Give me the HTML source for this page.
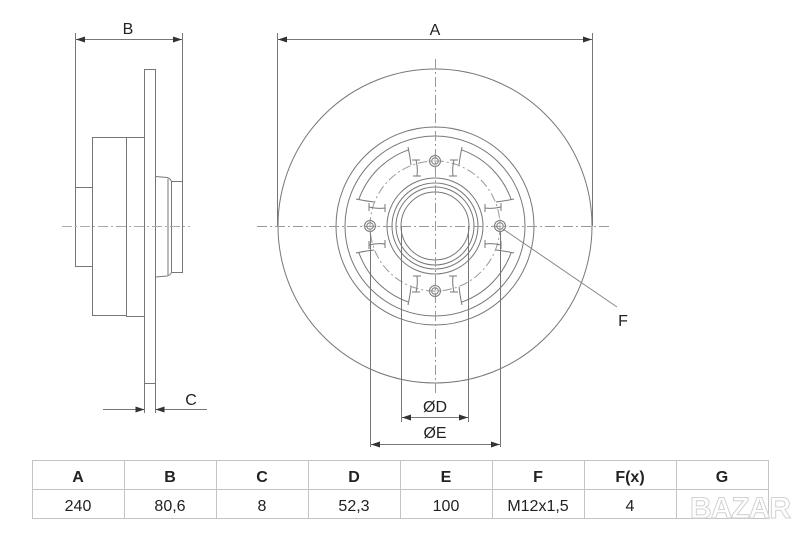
<!DOCTYPE html>
<html><head><meta charset="utf-8"><style>
html,body{margin:0;padding:0;background:#fff;}
body{width:800px;height:533px;overflow:hidden;position:relative;}
svg{position:absolute;left:0;top:0;}
text{font-family:"Liberation Sans",sans-serif;fill:#222;}
</style></head><body>
<svg width="800" height="533" viewBox="0 0 800 533" xmlns="http://www.w3.org/2000/svg">
<defs>
<g id="boss" fill="none" stroke="#777" stroke-width="1">
  <path d="M408,147 Q410,156 411,165"/>
  <path d="M462,147 Q460,156 459,165"/>
  <path d="M412,160 L420,160 M416,160 Q418,168 417,176 M413,176 L421,176"/>
  <path d="M458,160 L450,160 M454,160 Q452,168 453,176 M457,176 L449,176"/>
  <circle cx="435" cy="161" r="5.5"/>
  <circle cx="435" cy="161" r="3.3"/>
  <path d="M427,161 L443,161 M435,153 L435,169" stroke="#aaa" stroke-width="0.6"/>
</g>
</defs>

<!-- ============ SIDE VIEW ============ -->
<g fill="none" stroke="#777" stroke-width="1">
  <!-- B extension lines -->
  <line x1="75.5" y1="33" x2="75.5" y2="187"/>
  <line x1="182.5" y1="33" x2="182.5" y2="181"/>
  <line x1="76" y1="39.5" x2="182" y2="39.5"/>
  <!-- blocks -->
  <rect x="75.5" y="187.5" width="17" height="79"/>
  <rect x="92.5" y="137.5" width="34" height="178"/>
  <rect x="126.5" y="137.5" width="18" height="179"/>
  <rect x="144.5" y="69.5" width="11" height="314"/>
  <line x1="144.5" y1="384" x2="144.5" y2="413"/>
  <line x1="155.5" y1="384" x2="155.5" y2="413"/>
  <!-- right hub -->
  <path d="M155.5,176.5 L167,177.5 Q170.5,178.5 171.5,181.5 L182.5,181.5 L182.5,272.5 L171.5,272.5 Q170.5,275 167,276 L155.5,277"/>
  <line x1="168" y1="179" x2="168" y2="275"/>
  <line x1="171.5" y1="181.5" x2="171.5" y2="272.5"/>
  <!-- C dimension -->
  <line x1="103" y1="409.5" x2="144" y2="409.5"/>
  <line x1="156" y1="409.5" x2="207" y2="409.5"/>
  <!-- center line -->
  <line x1="62" y1="226.5" x2="190" y2="226.5" stroke="#aaa" stroke-dasharray="10 3 2 3"/>
</g>
<g fill="#333">
  <polygon points="76,39.5 85,36.5 85,42.5"/>
  <polygon points="182,39.5 173,36.5 173,42.5"/>
  <polygon points="144.5,409.5 135.5,406.5 135.5,412.5"/>
  <polygon points="155.5,409.5 164.5,406.5 164.5,412.5"/>
</g>
<text x="128" y="34" font-size="16" text-anchor="middle">B</text>
<text x="191" y="405" font-size="16" text-anchor="middle">C</text>

<!-- ============ FRONT VIEW ============ -->
<g fill="none" stroke="#777" stroke-width="1">
  <!-- A extension -->
  <line x1="277.5" y1="33" x2="277.5" y2="226"/>
  <line x1="592.5" y1="33" x2="592.5" y2="226"/>
  <line x1="278" y1="39.5" x2="592" y2="39.5"/>
  <circle cx="435" cy="226" r="157"/>
  <circle cx="435" cy="226" r="99"/>
  <circle cx="435" cy="226" r="90"/>
  <circle cx="435" cy="226" r="48"/>
  <circle cx="435" cy="226" r="43"/>
  <circle cx="435" cy="226" r="39"/>
  <circle cx="435" cy="226" r="34"/>
  <circle cx="435" cy="226" r="65" stroke="#999" stroke-dasharray="9 3 2 3"/>
  <!-- pocket arcs r=81 between bosses -->
  <path d="M461.4,149.8 A81,81 0 0 1 511.2,199.6"/>
  <path d="M511.2,252.4 A81,81 0 0 1 461.4,302.2"/>
  <path d="M408.6,302.2 A81,81 0 0 1 358.8,252.4"/>
  <path d="M358.8,199.6 A81,81 0 0 1 408.6,149.8"/>
  <!-- center lines -->
  <line x1="257" y1="226.5" x2="612" y2="226.5" stroke="#999" stroke-dasharray="10 3 2 3"/>
  <line x1="435.5" y1="59" x2="435.5" y2="393" stroke="#999" stroke-dasharray="10 3 2 3"/>
  <!-- D / E extension -->
  <line x1="401.5" y1="226" x2="401.5" y2="422"/>
  <line x1="468.5" y1="226" x2="468.5" y2="422"/>
  <line x1="370.5" y1="231" x2="370.5" y2="447"/>
  <line x1="500.5" y1="231" x2="500.5" y2="447"/>
  <line x1="402" y1="417.5" x2="468" y2="417.5"/>
  <line x1="371" y1="444.5" x2="500" y2="444.5"/>
  <!-- F leader -->
  <line x1="503" y1="229" x2="617" y2="307" stroke="#888"/>
</g>
<use href="#boss"/>
<use href="#boss" transform="rotate(90 435 226)"/>
<use href="#boss" transform="rotate(180 435 226)"/>
<use href="#boss" transform="rotate(270 435 226)"/>
<g fill="#333">
  <polygon points="278,39.5 287,36.5 287,42.5"/>
  <polygon points="592,39.5 583,36.5 583,42.5"/>
  <polygon points="402,417.5 411,414.5 411,420.5"/>
  <polygon points="468,417.5 459,414.5 459,420.5"/>
  <polygon points="371,444.5 380,441.5 380,447.5"/>
  <polygon points="500,444.5 491,441.5 491,447.5"/>
</g>
<text x="435" y="35" font-size="16" text-anchor="middle">A</text>
<text x="623" y="326" font-size="16" text-anchor="middle">F</text>
<text x="435" y="412" font-size="16" text-anchor="middle">ØD</text>
<text x="435" y="438" font-size="16" text-anchor="middle">ØE</text>

<!-- ============ TABLE ============ -->
<g fill="none" stroke="#c4c4c4" stroke-width="1">
  <rect x="32.5" y="460.5" width="736" height="58"/>
  <line x1="32" y1="489.5" x2="768" y2="489.5"/>
  <line x1="124.5" y1="460" x2="124.5" y2="519"/>
  <line x1="216.5" y1="460" x2="216.5" y2="519"/>
  <line x1="308.5" y1="460" x2="308.5" y2="519"/>
  <line x1="400.5" y1="460" x2="400.5" y2="519"/>
  <line x1="492.5" y1="460" x2="492.5" y2="519"/>
  <line x1="584.5" y1="460" x2="584.5" y2="519"/>
  <line x1="676.5" y1="460" x2="676.5" y2="519"/>
</g>
<g font-size="16" font-weight="bold" text-anchor="middle">
  <text x="78" y="482">A</text>
  <text x="170" y="482">B</text>
  <text x="262" y="482">C</text>
  <text x="354" y="482">D</text>
  <text x="446" y="482">E</text>
  <text x="538" y="482">F</text>
  <text x="630" y="482">F(x)</text>
  <text x="722" y="482">G</text>
</g>
<g font-size="16" text-anchor="middle" fill="#333">
  <text x="78" y="511">240</text>
  <text x="170" y="511">80,6</text>
  <text x="262" y="511">8</text>
  <text x="354" y="511">52,3</text>
  <text x="446" y="511">100</text>
  <text x="538" y="511">M12x1,5</text>
  <text x="630" y="511">4</text>
</g>
<text x="740" y="518" font-size="30" font-weight="bold" text-anchor="middle" style="fill:#fff;stroke:#d2d2d2;stroke-width:1" letter-spacing="-1">BAZAR</text>
</svg>
</body></html>
